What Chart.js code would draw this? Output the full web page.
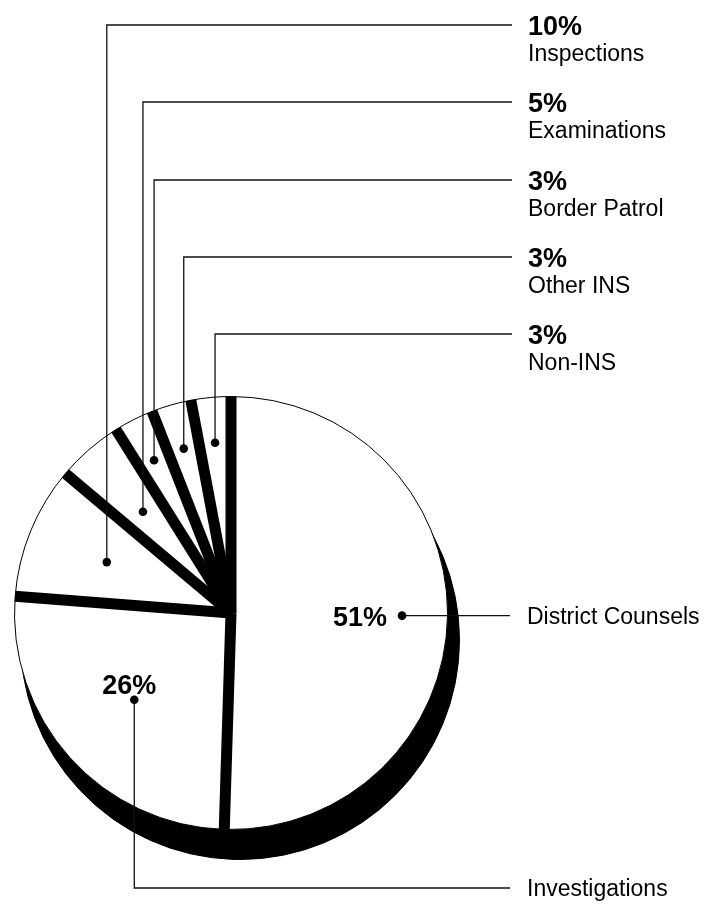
<!DOCTYPE html>
<html>
<head>
<meta charset="utf-8">
<script src="https://cdn.jsdelivr.net/npm/chart.js@4.4.1/dist/chart.umd.min.js"></script>
<style>
  html, body { margin: 0; padding: 0; background: #fff; }
  #wrap { width: 709px; height: 905px; }
</style>
</head>
<body>
<div id="wrap"><canvas id="pie" width="709" height="905"></canvas></div>
<script>
// data, clockwise from the top
const categories = ['District Counsels', 'Investigations', 'Inspections', 'Examinations', 'Border Patrol', 'Other INS', 'Non-INS'];
const shares = [51, 26, 10, 5, 3, 3, 3];

// where the leader dot sits, as a share of the radius
const dotRadius = [0.79, 0.6, 0.62, 0.62, 0.79, 0.79, 0.79];
// y of the horizontal leader for the small slices (Inspections .. Non-INS)
const topLeaderY = [25, 102, 180, 257, 334];

const FONT = '"Liberation Sans", Arial, Helvetica, sans-serif';
const bandWidth = 11;
const shadow = { dx: 9, dy: 27, grow: 3 };

function dotPos(arc, i) {
    const a = (arc.startAngle + arc.endAngle) / 2;
    const r = arc.outerRadius * dotRadius[i];
    return { x: arc.x + Math.cos(a) * r, y: arc.y + Math.sin(a) * r };
}

// black shadow under the slices
const shadowPlugin = {
    id: 'shadow',
    beforeDatasetsDraw(chart) {
        const ctx = chart.ctx;
        const arcs = chart.getDatasetMeta(0).data;
        ctx.save();
        ctx.fillStyle = '#000';
        ctx.strokeStyle = '#000';
        ctx.lineWidth = 1;
        ctx.beginPath();
        arcs.forEach(arc => {
            const cx = arc.x + shadow.dx, cy = arc.y + shadow.dy;
            ctx.moveTo(cx, cy);
            ctx.arc(cx, cy, arc.outerRadius + shadow.grow, arc.startAngle, arc.endAngle);
            ctx.closePath();
        });
        ctx.fill();
        ctx.stroke();
        ctx.restore();
    }
};

// black bands along each slice edge
const bandPlugin = {
    id: 'bands',
    afterDatasetsDraw(chart) {
        const ctx = chart.ctx;
        const arcs = chart.getDatasetMeta(0).data;
        ctx.save();
        ctx.fillStyle = '#000';
        arcs.forEach(arc => {
            const a = arc.startAngle;
            const ux = Math.cos(a), uy = Math.sin(a);
            const nx = -uy * bandWidth / 2, ny = ux * bandWidth / 2;
            const r = arc.outerRadius;
            ctx.beginPath();
            ctx.moveTo(arc.x + nx, arc.y + ny);
            ctx.lineTo(arc.x + nx + ux * r, arc.y + ny + uy * r);
            ctx.lineTo(arc.x - nx + ux * r, arc.y - ny + uy * r);
            ctx.lineTo(arc.x - nx, arc.y - ny);
            ctx.closePath();
            ctx.fill();
        });
        ctx.restore();
    }
};

// leader lines, dots and labels
const labelPlugin = {
    id: 'leaders',
    afterDraw(chart) {
        const ctx = chart.ctx;
        const arcs = chart.getDatasetMeta(0).data;
        ctx.save();
        ctx.strokeStyle = '#111';
        ctx.fillStyle = '#000';
        ctx.lineWidth = 1.3;

        arcs.forEach((arc, i) => {
            const p = dotPos(arc, i);
            const pct = shares[i] + '%';
            ctx.beginPath();
            if (i === 0) {
                ctx.moveTo(p.x, p.y);
                ctx.lineTo(510, p.y);
            } else if (i === 1) {
                ctx.moveTo(p.x, p.y);
                ctx.lineTo(p.x, 888);
                ctx.lineTo(510, 888);
            } else {
                const y = topLeaderY[i - 2];
                ctx.moveTo(p.x, p.y);
                ctx.lineTo(p.x, y);
                ctx.lineTo(512, y);
            }
            ctx.stroke();

            ctx.beginPath();
            ctx.arc(p.x, p.y, 4.3, 0, Math.PI * 2);
            ctx.fill();

            ctx.textBaseline = 'alphabetic';
            if (i === 0) {
                ctx.font = 'bold 27px ' + FONT;
                ctx.textAlign = 'right';
                ctx.fillText(pct, p.x - 15, p.y + 10);
                ctx.font = '23px ' + FONT;
                ctx.textAlign = 'left';
                ctx.fillText(categories[i], 527, p.y + 8);
            } else if (i === 1) {
                ctx.font = 'bold 27px ' + FONT;
                ctx.textAlign = 'center';
                ctx.fillText(pct, p.x - 5, p.y - 6);
                ctx.font = '23px ' + FONT;
                ctx.textAlign = 'left';
                ctx.fillText(categories[i], 527, 896);
            } else {
                const y = topLeaderY[i - 2];
                ctx.textAlign = 'left';
                ctx.font = 'bold 27px ' + FONT;
                ctx.fillText(pct, 528, y + 10);
                ctx.font = '23px ' + FONT;
                ctx.fillText(categories[i], 528, y + 36);
            }
        });
        ctx.restore();
    }
};

new Chart(document.getElementById('pie'), {
    type: 'pie',
    data: {
        labels: categories,
        datasets: [{
            data: shares,
            backgroundColor: '#fff',
            borderColor: '#000',
            borderWidth: 1
        }]
    },
    options: {
        responsive: false,
        devicePixelRatio: 1,
        animation: false,
        layout: { padding: { left: 14, top: 396, right: 261, bottom: 75 } },
        plugins: { legend: { display: false }, tooltip: { enabled: false } }
    },
    plugins: [shadowPlugin, bandPlugin, labelPlugin]
});
</script>
</body>
</html>
